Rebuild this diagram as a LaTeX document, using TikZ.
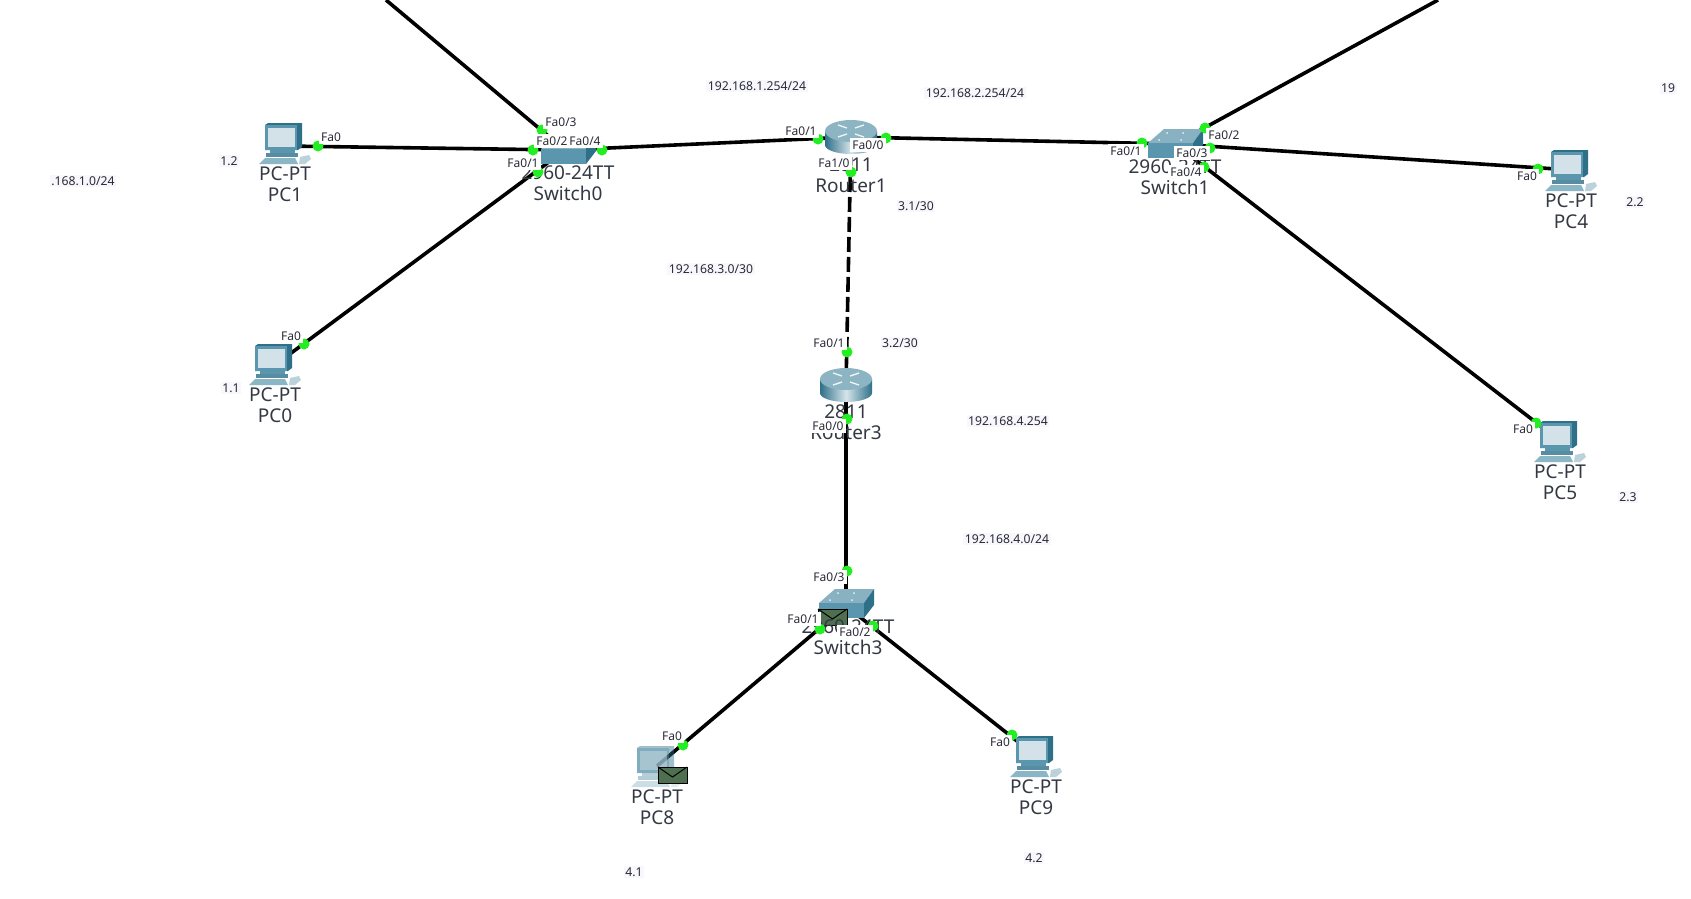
\documentclass[tikz,border=0pt]{standalone}
\usepackage{fontspec}
\setmainfont{Noto Sans}
\usetikzlibrary{backgrounds}
\definecolor{lbl}{HTML}{2A2A38}
\definecolor{devtxt}{HTML}{333842}
\definecolor{pgreen}{HTML}{22EE22}
\definecolor{ipbg}{HTML}{F7F7FC}
\definecolor{teal1}{HTML}{5A96AD}
\definecolor{teal2}{HTML}{2F7089}
\definecolor{teal3}{HTML}{8DB4C3}
\definecolor{screen}{HTML}{D3E2E9}
\definecolor{envg}{HTML}{4F7050}
\tikzset{
  link/.style={line width=3.6pt,black},
  portdot/.style={circle,fill=pgreen,inner sep=0pt,minimum size=11pt},
  portlbl/.style={fill=white,inner xsep=2pt,inner ysep=3pt,text=lbl,font=\fontsize{12}{12}\selectfont},
  iplbl/.style={fill=ipbg,inner sep=1.5pt,text=lbl,font=\fontsize{12.2}{12}\selectfont},
  devlbl/.style={align=center,inner sep=0pt,text=devtxt,font=\fontsize{19}{21}\selectfont},
  pcicon/.pic={
    \fill[teal1!70!white] (-20,-16)--(10,-16)--(13,-10)--(-26,-10)--cycle;
    \fill[teal3!60!white] (15,-17)--(24,-19)--(26,-15)--(20,-10)--(14,-10)--cycle;
    \fill[teal2] (-20,-49)--(-17,-51)--(17,-51)--(17,-27)--(13,-24)--(-20,-24)--cycle;
    \fill[teal1] (-20,-49)--(12,-49)--(12,-24)--(-20,-24)--cycle;
    \fill[screen] (-17,-46) rectangle (10,-27);
    \fill[teal1] (-15,-24) rectangle (10,-21);
    \fill[teal2!80!white] (-19,-21) rectangle (13,-17);
  },
  routericon/.pic={
    \shade[left color=teal2,right color=teal2,middle color=white!75!teal1]
      (-26,-6) -- (-26,8) arc[start angle=180,end angle=0,x radius=26,y radius=9] -- (26,-6) -- cycle;
    \fill[teal3] (0,-6) ellipse[x radius=26,y radius=11];
    \draw[white!85!teal3,line width=1.4pt] (-4,-3)--(-13,0) (4,-9)--(13,-12) (-4,-9)--(-13,-12) (4,-3)--(13,0);
  },
  switchicon/.pic={
    \fill[teal3!90!teal1] (-27,-24)--(-11,-38)--(28,-38)--(18,-24)--cycle;
    \fill[white!80!teal3] (-8,-34) circle[radius=1] (8,-34) circle[radius=1] (-16,-27) circle[radius=1] (6,-27) circle[radius=1];
    \fill[teal2] (18,-24)--(28,-38)--(28,-22)--(18,-9)--cycle;
    \fill[teal1] (-27,-24) rectangle (18,-9);
  },
  envelope/.pic={
    \fill[envg,draw=black,line width=1pt] (0,0) rectangle (29,16);
    \draw[black,line width=1pt] (0,0)--(14.5,10)--(29,0);
  }
}
\begin{document}
\begin{tikzpicture}[x=1pt,y=-1pt]
\useasboundingbox (0,0) rectangle (1691,898);
% free ends and device centres
\coordinate (topL) at (386,0);
\coordinate (topR) at (1438,0);
\coordinate (cSw0) at (565,150);
\coordinate (cSw1) at (1175,144);
\coordinate (cSw3) at (846,606);
\coordinate (cR1) at (851,137);
\coordinate (cR3) at (846,386);
\coordinate (cPC0) at (275,365);
\coordinate (cPC1) at (285,146);
\coordinate (cPC4) at (1572,170);
\coordinate (cPC5) at (1560,441);
\coordinate (cPC8) at (657,766);
\coordinate (cPC9) at (1036,756);
\begin{scope}[on background layer]
\draw[link] (topL) -- (cSw0);
\draw[link] (cPC1) -- (cSw0);
\draw[link] (cPC0) -- (cSw0);
\draw[link] (cSw0) -- (cR1);
\draw[link] (cR1) -- (cSw1);
\draw[link] (topR) -- (cSw1);
\draw[link] (cSw1) -- (cPC4);
\draw[link] (cSw1) -- (cPC5);
\draw[link,dash pattern=on 15pt off 5pt] (cR1) -- (cR3);
\draw[link] (cR3) -- (cSw3);
\draw[link] (cSw3) -- (cPC8);
\draw[link] (cSw3) -- (cPC9);
\end{scope}
% icons
\pic at (285,174) {pcicon};
\pic at (275,395) {pcicon};
\pic at (1571,201) {pcicon};
\pic at (1560,472) {pcicon};
\pic[opacity=.45] at (657,797) {pcicon};
\pic at (1036,787) {pcicon};
\pic at (851,137) {routericon};
\pic at (846,385) {routericon};
\pic at (568,173) {switchicon};
\pic at (1175,167) {switchicon};
\pic at (846,627) {switchicon};
\pic at (818,609) {envelope};
\pic at (658,767) {envelope};
% device texts
\node[devlbl] (PC1) at (285,184.5) {PC-PT\\PC1};
\node[devlbl] (PC0) at (275,405) {PC-PT\\PC0};
\node[devlbl] (PC4) at (1571,211) {PC-PT\\PC4};
\node[devlbl] (PC5) at (1560,482.5) {PC-PT\\PC5};
\node[devlbl] (PC8) at (657,807) {PC-PT\\PC8};
\node[devlbl] (PC9) at (1036,797.5) {PC-PT\\PC9};
\node[devlbl] (Sw0) at (568,183) {2960-24TT\\Switch0};
\node[devlbl] (Sw1) at (1175,177.5) {2960-24TT\\Switch1};
\node[devlbl] (Sw3) at (848,637) {2960-24TT\\Switch3};
\node[devlbl] (R1) at (851,175) {2811\\Router1};
\node[devlbl] (R3) at (846,422.5) {2811\\Router3};
% port dots
\foreach \n/\p in {d1/{542,130},d2/{533,150},d3/{602,150},d4/{538,172},d5/{318,146},d6/{304,344},
  d7/{818,139},d8/{886,138},d9/{851,172},d10/{1142,143},d11/{1205,128},d12/{1210,148},d13/{1204,167},
  d14/{1538,169},d15/{1536,423},d16/{847,352},d17/{847,419},d18/{847,571},d19/{820,629},d20/{873,626},
  d21/{683,745},d22/{1012,735}}
  \node[portdot] (\n) at (\p) {};
% port labels
\foreach \n/\p/\t in {l1/{561,122}/Fa0\slash 3,l2/{552,141}/Fa0\slash 2,l3/{585,141}/Fa0\slash 4,l4/{523,163}/Fa0\slash 1,
  l5/{331,137}/Fa0,l6/{291,336}/Fa0,l7/{801,131}/Fa0\slash 1,l8/{868,145}/Fa0\slash 0,l9/{834,163}/Fa1\slash 0,
  l10/{1126,151}/Fa0\slash 1,l11/{1224,135}/Fa0\slash 2,l12/{1192,153}/Fa0\slash 3,l13/{1186,172}/Fa0\slash 4,
  l14/{1527,176}/Fa0,l15/{1523,429}/Fa0,l16/{829,343}/Fa0\slash 1,l17/{828,426}/Fa0\slash 0,
  l18/{829,577}/Fa0\slash 3,l19/{803,619}/Fa0\slash 1,l20/{855,632}/Fa0\slash 2,l21/{672,736}/Fa0,l22/{1000,742}/Fa0}
  \node[portlbl] (\n) at (\p) {\t};
% address notes
\foreach \n/\p/\t in {i1/{757,86}/192.168.1.254\slash 24,i2/{975,93}/192.168.2.254\slash 24,i3/{83,181}/.168.1.0\slash 24,
  i4/{229,161}/1.2,i5/{231,388}/1.1,i6/{916,206}/3.1\slash 30,i7/{711,269}/192.168.3.0\slash 30,i8/{900,343}/3.2\slash 30,
  i9/{1008,421}/192.168.4.254,i10/{1007,539}/192.168.4.0\slash 24,i11/{1635,202}/2.2,i12/{1628,497}/2.3,
  i13/{634,872}/4.1,i14/{1034,858}/4.2,i15/{1668,88}/19}
  \node[iplbl] (\n) at (\p) {\t};
\end{tikzpicture}
\end{document}
